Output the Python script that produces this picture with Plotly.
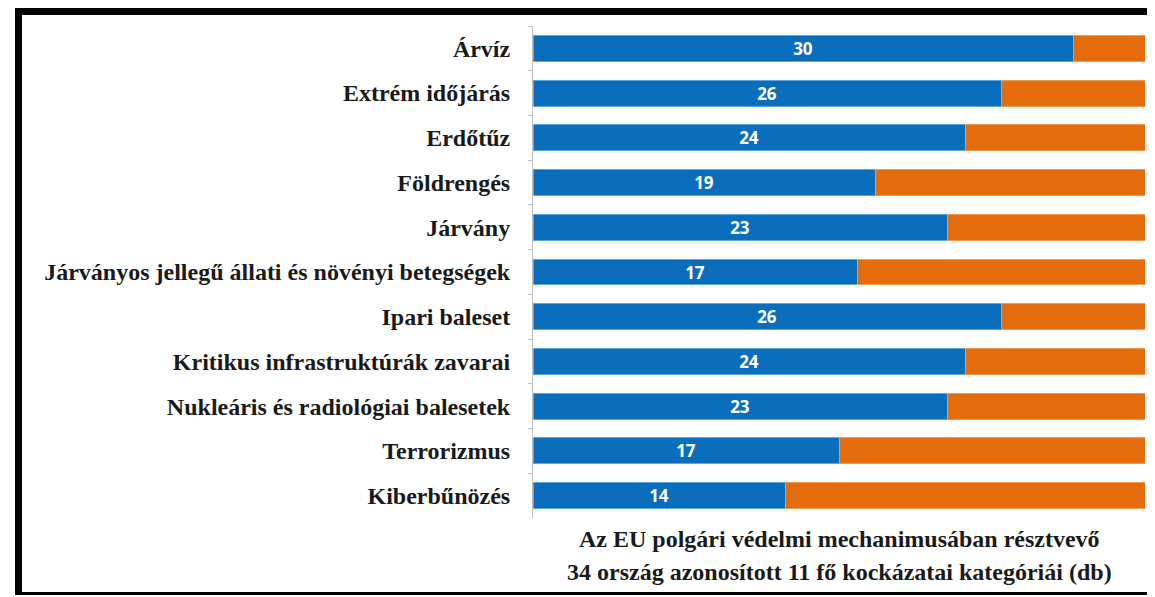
import plotly.graph_objects as go

categories = [
    "Árvíz",
    "Extrém időjárás",
    "Erdőtűz",
    "Földrengés",
    "Járvány",
    "Járványos jellegű állati és növényi betegségek",
    "Ipari baleset",
    "Kritikus infrastruktúrák zavarai",
    "Nukleáris és radiológiai balesetek",
    "Terrorizmus",
    "Kiberbűnözés",
]
# bar lengths as drawn (countries out of 34)
values = [30, 26, 24, 19, 23, 18, 26, 24, 23, 17, 14]
# numbers printed on the bars
value_labels = ["30", "26", "24", "19", "23", "17", "26", "24", "23", "17", "14"]
total_countries = 34
remainder = [total_countries - v for v in values]
title_lines = [
    "Az EU polgári védelmi mechanimusában résztvevő",
    "34 ország azonosított 11 fő kockázatai kategóriái (db)",
]

# page body adds an 8px offset; work in window pixels and subtract it
OFF = 8
W, H = 1155 - OFF, 597 - OFF
L, R, T, B = 533 - OFF, 1145 - OFF, 26 - OFF, 518 - OFF

BLUE = "#0A6EBD"
ORANGE = "#E56C0C"

fig = go.Figure()
fig.add_trace(go.Bar(
    y=categories, x=values, orientation="h",
    marker=dict(color=BLUE, line=dict(color="#5AA7E0", width=1)),
    text=value_labels, textposition="inside", insidetextanchor="middle",
    textangle=0, constraintext="none",
    textfont=dict(family="Open Sans", size=17, color="white", weight="bold"),
    hoverinfo="skip", showlegend=False,
))
fig.add_trace(go.Bar(
    y=categories, x=remainder, orientation="h",
    marker=dict(color=ORANGE, line=dict(color="#F09A50", width=1)),
    hoverinfo="skip", showlegend=False,
))

def px_x(p):
    return (p - OFF - L) / (R - L)

def px_y(p):
    return (B - (p - OFF)) / (B - T)

shapes = []
for (x0, y0, x1, y1) in [(15, 6, 1154, 15), (15, 6, 22, 595), (1151, 6, 1154, 595), (15, 592, 1154, 595)]:
    shapes.append(dict(type="rect", xref="paper", yref="paper",
                       x0=px_x(x0), x1=px_x(x1), y0=px_y(y1), y1=px_y(y0),
                       fillcolor="black", line=dict(width=0), layer="above"))

annotations = []
for i, line in enumerate(title_lines):
    annotations.append(dict(
        text=line, xref="paper", yref="paper", x=0.5, y=px_y(539 + 33 * i),
        xanchor="center", yanchor="middle", showarrow=False,
        font=dict(family="Liberation Serif", size=24, color="#1a1a1a", weight="bold"),
    ))

fig.update_layout(
    width=W, height=H,
    margin=dict(l=L, r=W - R, t=T, b=H - B, autoexpand=False),
    barmode="stack", bargap=0.42,
    plot_bgcolor="white", paper_bgcolor="white",
    xaxis=dict(range=[0, total_countries], showticklabels=False, showgrid=False,
               zeroline=False, showline=False, ticks=""),
    yaxis=dict(autorange="reversed", showgrid=False, zeroline=False,
               showline=True, linecolor="#BFBFBF", linewidth=1,
               ticks="outside", ticklen=4, tickcolor="#BFBFBF",
               tickson="boundaries", ticklabelstandoff=17,
               tickfont=dict(family="Liberation Serif", size=24, color="#1a1a1a", weight="bold")),
    shapes=shapes, annotations=annotations,
)

fig.write_html("out.html")
